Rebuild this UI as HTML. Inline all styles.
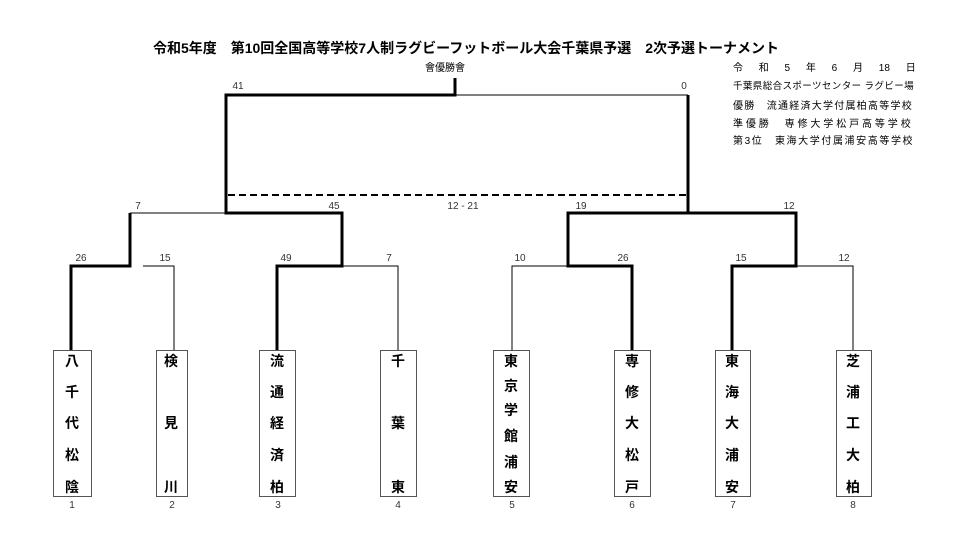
<!DOCTYPE html>
<html><head><meta charset="utf-8"><style>
body{margin:0;background:#fff;width:960px;height:551px;overflow:hidden;font-family:"Liberation Sans","Noto Sans CJK JP",sans-serif}
.t{position:absolute;white-space:nowrap}
</style></head><body>
<div class="t" style="left:0;width:932px;top:38px;text-align:center;font-size:14px;font-weight:bold">令和5年度　第10回全国高等学校7人制ラグビーフットボール大会千葉県予選　2次予選トーナメント</div>
<div class="t" style="left:425px;top:59px;font-size:10px">會優勝會</div>
<div class="t" style="left:733px;top:59px;font-size:10px;word-spacing:3px">令　 和　 5　 年　 6　 月　 18　 日</div>
<div class="t" style="left:733px;top:78px;font-size:9.5px;letter-spacing:0.4px">千葉県総合スポーツセンター ラグビー場</div>
<div class="t" style="left:733px;top:97px;font-size:10px;letter-spacing:1.25px">優勝　流通経済大学付属柏高等学校</div>
<div class="t" style="left:733px;top:115px;font-size:10px;letter-spacing:2.9px">準優勝　専修大学松戸高等学校</div>
<div class="t" style="left:733px;top:132px;font-size:10px;letter-spacing:1.6px">第3位　東海大学付属浦安高等学校</div>
<svg width="960" height="551" style="position:absolute;left:0;top:0" font-family="Liberation Sans, Noto Sans CJK JP, sans-serif">
<g stroke="#000" fill="none" stroke-width="1">
<path d="M455 95H688 M130 213H226 M689 213H796 M143 266H174V350 M342 266H398V350 M512 350V266H568 M796 266H853V350"/>
</g>
<g stroke="#000" fill="none" stroke-width="3">
<path d="M455 78V95H226V213H342V266H277V350 M688 95V213H568V266H632V350 M689 213H796V266H732V350 M71 350V266H130V213"/>
</g>
<path d="M228 195H688" stroke="#000" stroke-width="2" stroke-dasharray="7,4"/>
<g font-size="10" fill="#333" text-anchor="middle">
<text x="238" y="89">41</text><text x="684" y="89">0</text>
<text x="138" y="209">7</text><text x="334" y="209">45</text><text x="463" y="209">12 - 21</text>
<text x="581" y="209">19</text><text x="789" y="209">12</text>
<text x="81" y="261">26</text><text x="165" y="261">15</text><text x="286" y="261">49</text><text x="389" y="261">7</text>
<text x="520" y="261">10</text><text x="623" y="261">26</text><text x="741" y="261">15</text><text x="844" y="261">12</text>
<text x="72" y="508">1</text><text x="172" y="508">2</text><text x="278" y="508">3</text><text x="398" y="508">4</text>
<text x="512" y="508">5</text><text x="632" y="508">6</text><text x="733" y="508">7</text><text x="853" y="508">8</text>
</g>
<g stroke="#555" fill="#fff" stroke-width="1">
<rect x="53.5" y="350.5" width="38" height="146"/><rect x="156.5" y="350.5" width="31" height="146"/>
<rect x="259.5" y="350.5" width="36" height="146"/><rect x="380.5" y="350.5" width="36" height="146"/>
<rect x="493.5" y="350.5" width="36" height="146"/><rect x="614.5" y="350.5" width="36" height="146"/>
<rect x="715.5" y="350.5" width="35" height="146"/><rect x="836.5" y="350.5" width="35" height="146"/>
</g>
<g font-size="14" font-weight="bold" text-anchor="middle" fill="#000">
<text x="72" y="366">八</text><text x="72" y="397">千</text><text x="72" y="428">代</text><text x="72" y="460">松</text><text x="72" y="492">陰</text>
<text x="171" y="366">検</text><text x="171" y="428">見</text><text x="171" y="492">川</text>
<text x="277" y="366">流</text><text x="277" y="397">通</text><text x="277" y="428">経</text><text x="277" y="460">済</text><text x="277" y="492">柏</text>
<text x="398" y="366">千</text><text x="398" y="428">葉</text><text x="398" y="492">東</text>
<text x="511" y="366">東</text><text x="511" y="391">京</text><text x="511" y="415">学</text><text x="511" y="441">館</text><text x="511" y="467">浦</text><text x="511" y="492">安</text>
<text x="632" y="366">専</text><text x="632" y="397">修</text><text x="632" y="428">大</text><text x="632" y="460">松</text><text x="632" y="492">戸</text>
<text x="732" y="366">東</text><text x="732" y="397">海</text><text x="732" y="428">大</text><text x="732" y="460">浦</text><text x="732" y="492">安</text>
<text x="853" y="366">芝</text><text x="853" y="397">浦</text><text x="853" y="428">工</text><text x="853" y="460">大</text><text x="853" y="492">柏</text>
</g>
</svg>
</body></html>
